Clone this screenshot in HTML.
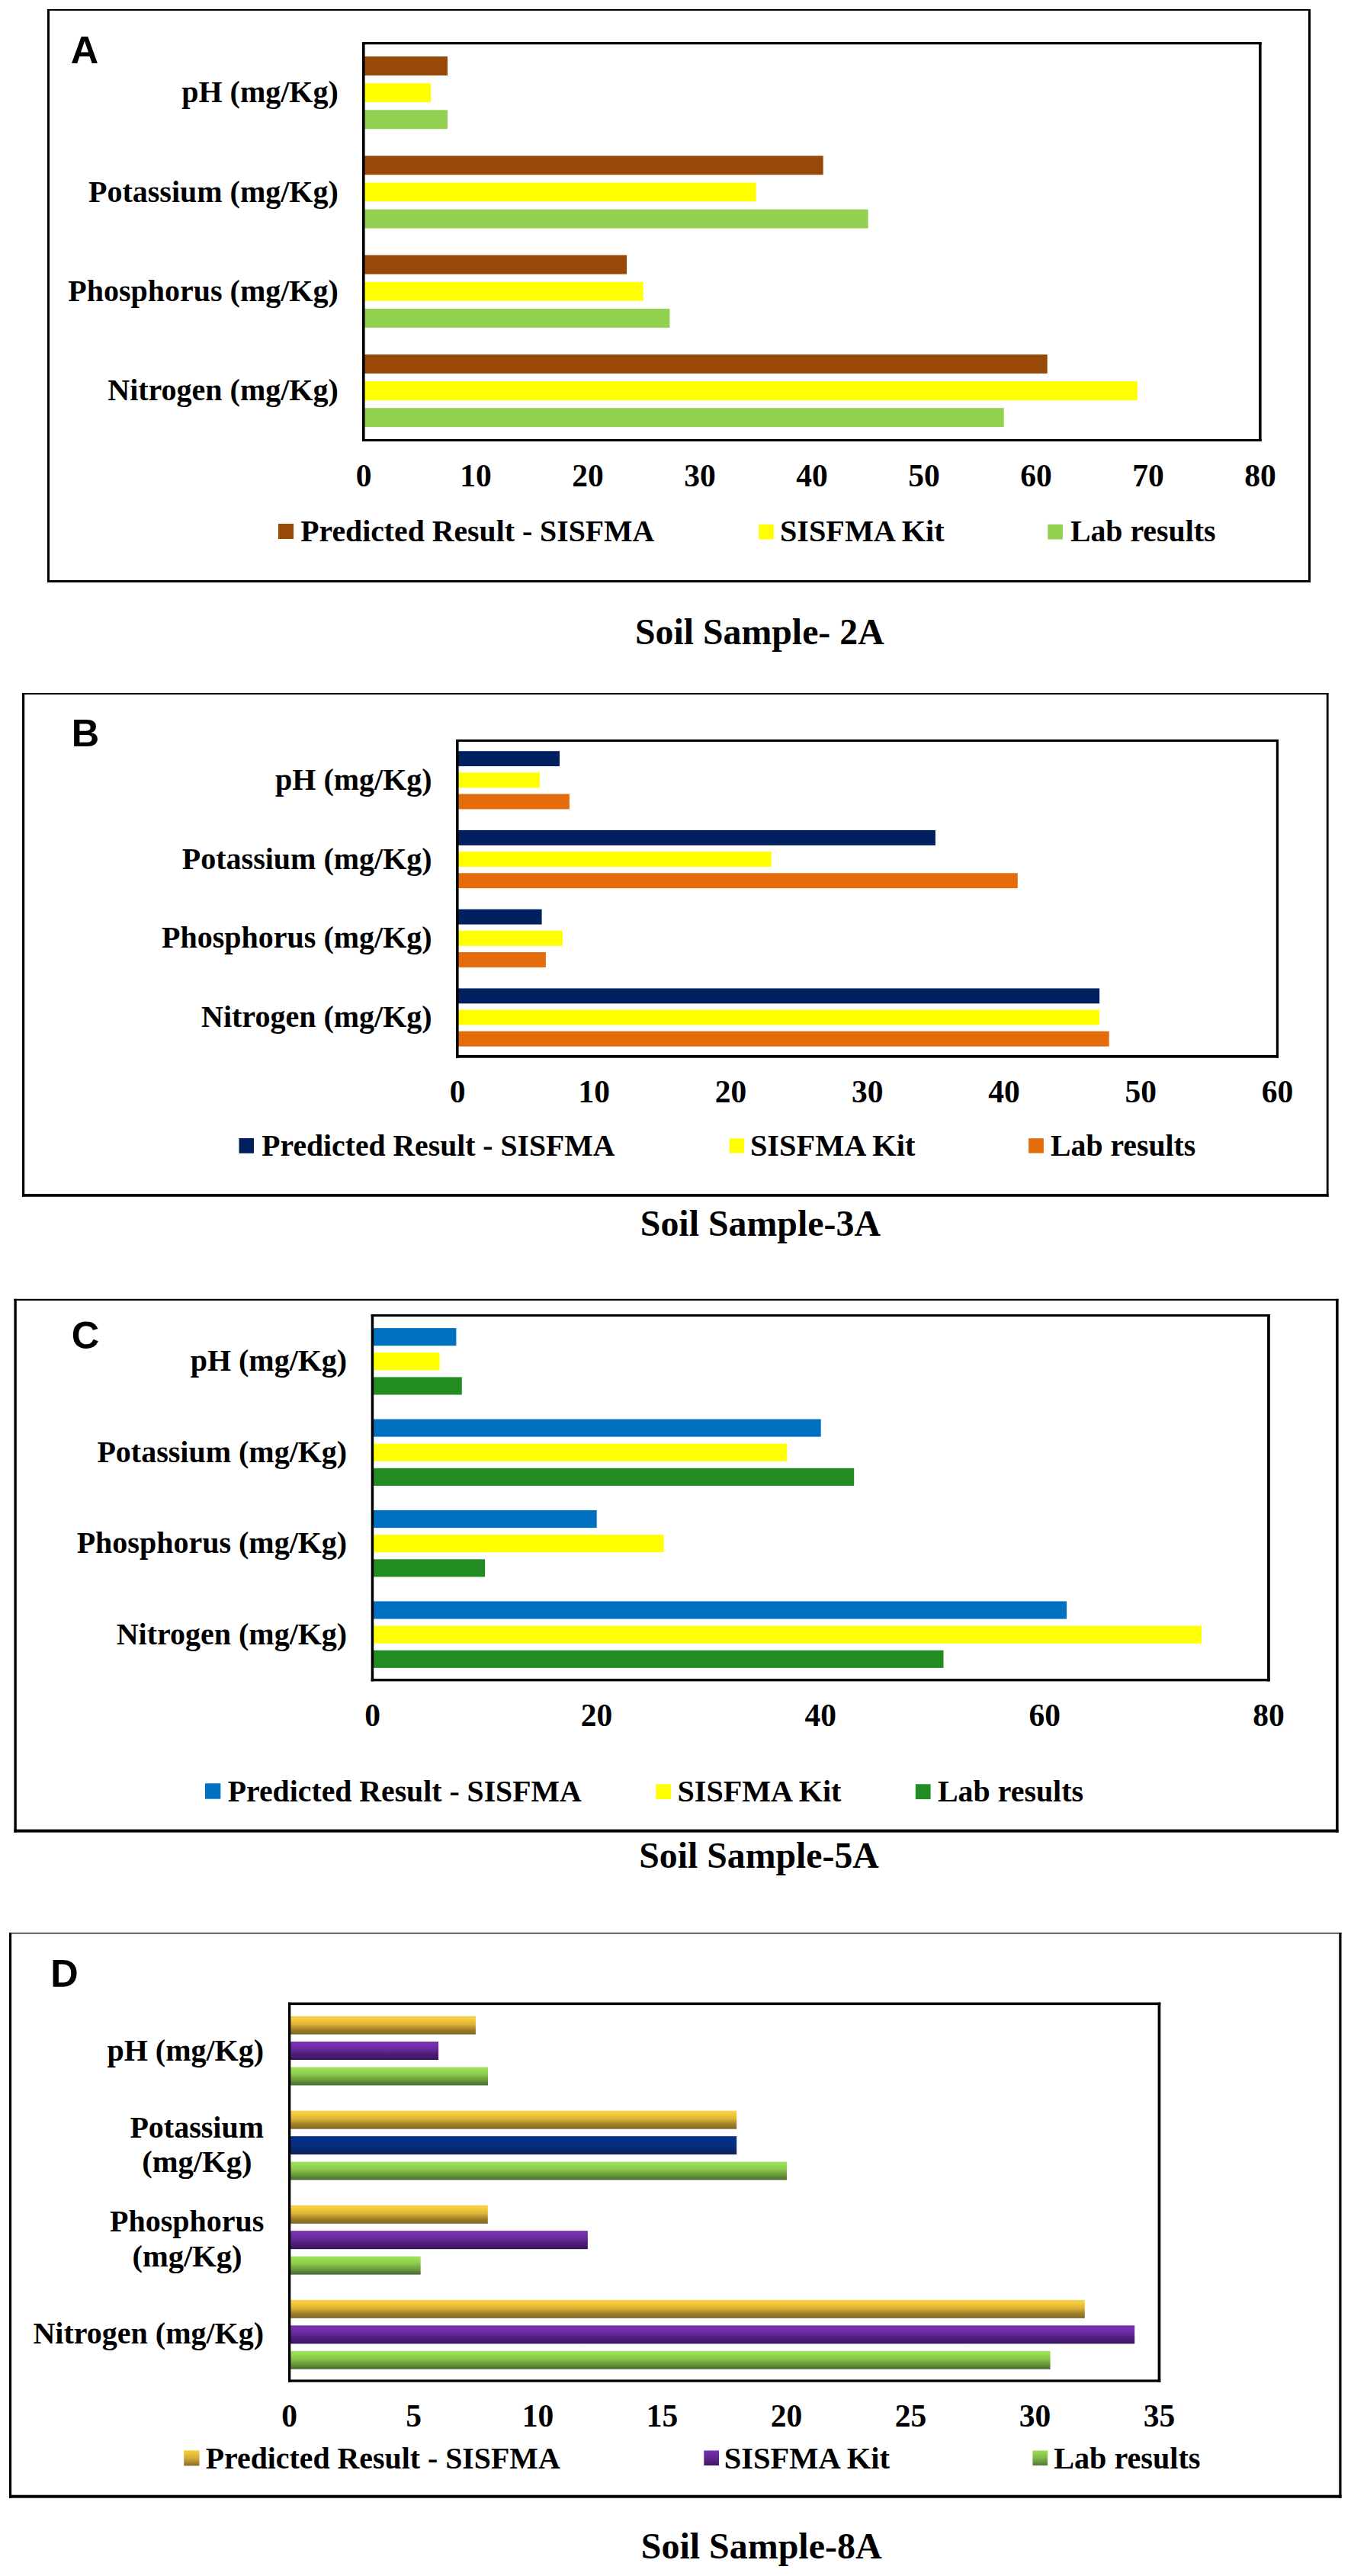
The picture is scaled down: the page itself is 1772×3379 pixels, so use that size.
<!DOCTYPE html>
<html><head><meta charset="utf-8"><title>Soil Sample Charts</title>
<style>html,body{margin:0;padding:0;background:#fff;} svg{display:block;}</style></head>
<body>
<svg width="1772" height="3379" viewBox="0 0 1772 3379">
<defs>
<linearGradient id="gGold" x1="0" y1="0" x2="0" y2="1">
<stop offset="0" stop-color="#f1cd52"/><stop offset="0.12" stop-color="#f9d03b"/><stop offset="0.45" stop-color="#ddb236"/><stop offset="0.75" stop-color="#9e7f27"/><stop offset="0.92" stop-color="#8a6f25"/><stop offset="1" stop-color="#76602e"/></linearGradient>
<linearGradient id="gPurp" x1="0" y1="0" x2="0" y2="1">
<stop offset="0" stop-color="#6f2aa0"/><stop offset="0.1" stop-color="#7b31b3"/><stop offset="0.4" stop-color="#6c299f"/><stop offset="0.7" stop-color="#4d1d76"/><stop offset="0.9" stop-color="#44186a"/><stop offset="1" stop-color="#2d1050"/></linearGradient>
<linearGradient id="gGreen" x1="0" y1="0" x2="0" y2="1">
<stop offset="0" stop-color="#a6d970"/><stop offset="0.12" stop-color="#9ae151"/><stop offset="0.4" stop-color="#8cc94f"/><stop offset="0.7" stop-color="#6a9d3a"/><stop offset="0.9" stop-color="#557a35"/><stop offset="1" stop-color="#4b6a32"/></linearGradient>
<linearGradient id="gNavy" x1="0" y1="0" x2="0" y2="1">
<stop offset="0" stop-color="#06308a"/><stop offset="0.3" stop-color="#042f88"/><stop offset="0.7" stop-color="#0b2a70"/><stop offset="1" stop-color="#0e2158"/></linearGradient>
<linearGradient id="gGoldS" x1="0" y1="0" x2="0" y2="1"><stop offset="0" stop-color="#f9d03b"/><stop offset="0.5" stop-color="#d6ac36"/><stop offset="1" stop-color="#86692a"/></linearGradient>
<linearGradient id="gPurpS" x1="0" y1="0" x2="0" y2="1"><stop offset="0" stop-color="#7b31b3"/><stop offset="0.5" stop-color="#62258f"/><stop offset="1" stop-color="#3c1662"/></linearGradient>
<linearGradient id="gGreenS" x1="0" y1="0" x2="0" y2="1"><stop offset="0" stop-color="#9ae151"/><stop offset="0.5" stop-color="#80b848"/><stop offset="1" stop-color="#52773a"/></linearGradient>
</defs>
<rect x="0" y="0" width="1772" height="3379" fill="#fff"/>
<rect x="62.00" y="12.00" width="1657.00" height="2.00" fill="#000"/>
<rect x="62.00" y="761.00" width="1657.00" height="3.00" fill="#000"/>
<rect x="62.00" y="12.00" width="3.00" height="752.00" fill="#000"/>
<rect x="1716.00" y="12.00" width="3.00" height="752.00" fill="#000"/>
<text x="92.64" y="82.90" font-size="50.5" text-anchor="start" font-family='"Liberation Sans", Arial, sans-serif' font-weight="bold">A</text>
<rect x="477.00" y="74.10" width="110.00" height="24.90" fill="#984807"/>
<rect x="477.00" y="109.20" width="88.10" height="24.90" fill="#FFFF00"/>
<rect x="477.00" y="144.30" width="110.00" height="24.90" fill="#92D050"/>
<rect x="477.00" y="204.40" width="602.70" height="24.90" fill="#984807"/>
<rect x="477.00" y="239.50" width="514.60" height="24.90" fill="#FFFF00"/>
<rect x="477.00" y="274.60" width="661.60" height="24.90" fill="#92D050"/>
<rect x="477.00" y="334.70" width="345.10" height="24.90" fill="#984807"/>
<rect x="477.00" y="369.80" width="366.60" height="24.90" fill="#FFFF00"/>
<rect x="477.00" y="404.90" width="401.40" height="24.90" fill="#92D050"/>
<rect x="477.00" y="465.00" width="896.70" height="24.90" fill="#984807"/>
<rect x="477.00" y="500.10" width="1014.80" height="24.90" fill="#FFFF00"/>
<rect x="477.00" y="535.20" width="839.70" height="24.90" fill="#92D050"/>
<rect x="475.00" y="55.00" width="1179.60" height="3.30" fill="#000"/>
<rect x="475.00" y="576.00" width="1179.60" height="3.00" fill="#000"/>
<rect x="475.00" y="55.00" width="3.60" height="524.00" fill="#000"/>
<rect x="1651.10" y="55.00" width="3.50" height="524.00" fill="#000"/>
<text x="477.00" y="637.60" font-size="41.5" text-anchor="middle" font-family='"Liberation Serif", "Times New Roman", serif' font-weight="bold">0</text>
<text x="624.00" y="637.60" font-size="41.5" text-anchor="middle" font-family='"Liberation Serif", "Times New Roman", serif' font-weight="bold">10</text>
<text x="771.00" y="637.60" font-size="41.5" text-anchor="middle" font-family='"Liberation Serif", "Times New Roman", serif' font-weight="bold">20</text>
<text x="918.00" y="637.60" font-size="41.5" text-anchor="middle" font-family='"Liberation Serif", "Times New Roman", serif' font-weight="bold">30</text>
<text x="1065.00" y="637.60" font-size="41.5" text-anchor="middle" font-family='"Liberation Serif", "Times New Roman", serif' font-weight="bold">40</text>
<text x="1212.00" y="637.60" font-size="41.5" text-anchor="middle" font-family='"Liberation Serif", "Times New Roman", serif' font-weight="bold">50</text>
<text x="1359.00" y="637.60" font-size="41.5" text-anchor="middle" font-family='"Liberation Serif", "Times New Roman", serif' font-weight="bold">60</text>
<text x="1506.00" y="637.60" font-size="41.5" text-anchor="middle" font-family='"Liberation Serif", "Times New Roman", serif' font-weight="bold">70</text>
<text x="1653.00" y="637.60" font-size="41.5" text-anchor="middle" font-family='"Liberation Serif", "Times New Roman", serif' font-weight="bold">80</text>
<text x="443.80" y="134.10" font-size="40" text-anchor="end" font-family='"Liberation Serif", "Times New Roman", serif' font-weight="bold">pH (mg/Kg)</text>
<text x="443.80" y="264.65" font-size="40" text-anchor="end" font-family='"Liberation Serif", "Times New Roman", serif' font-weight="bold">Potassium (mg/Kg)</text>
<text x="443.80" y="394.90" font-size="40" text-anchor="end" font-family='"Liberation Serif", "Times New Roman", serif' font-weight="bold">Phosphorus (mg/Kg)</text>
<text x="443.80" y="525.30" font-size="40" text-anchor="end" font-family='"Liberation Serif", "Times New Roman", serif' font-weight="bold">Nitrogen (mg/Kg)</text>
<rect x="365.00" y="687.00" width="20.00" height="20.00" fill="#984807"/>
<text x="394.20" y="709.70" font-size="39.76" text-anchor="start" font-family='"Liberation Serif", "Times New Roman", serif' font-weight="bold">Predicted Result - SISFMA</text>
<rect x="995.20" y="687.80" width="19.70" height="19.70" fill="#FFFF00"/>
<text x="1022.90" y="709.70" font-size="40.24" text-anchor="start" font-family='"Liberation Serif", "Times New Roman", serif' font-weight="bold">SISFMA Kit</text>
<rect x="1374.30" y="687.80" width="19.60" height="19.70" fill="#92D050"/>
<text x="1403.90" y="709.70" font-size="39.81" text-anchor="start" font-family='"Liberation Serif", "Times New Roman", serif' font-weight="bold">Lab results</text>
<text x="996.30" y="845.00" font-size="47.82" text-anchor="middle" font-family='"Liberation Serif", "Times New Roman", serif' font-weight="bold">Soil Sample- 2A</text>
<rect x="29.00" y="909.00" width="1713.60" height="2.00" fill="#000"/>
<rect x="29.00" y="1566.10" width="1713.60" height="3.70" fill="#000"/>
<rect x="29.00" y="909.00" width="3.20" height="660.80" fill="#000"/>
<rect x="1739.80" y="909.00" width="2.80" height="660.80" fill="#000"/>
<text x="93.69" y="978.70" font-size="50.5" text-anchor="start" font-family='"Liberation Sans", Arial, sans-serif' font-weight="bold">B</text>
<rect x="600.00" y="985.20" width="134.00" height="19.90" fill="#002060"/>
<rect x="600.00" y="1013.35" width="107.90" height="19.90" fill="#FFFF00"/>
<rect x="600.00" y="1041.50" width="146.90" height="19.90" fill="#E46C0A"/>
<rect x="600.00" y="1088.95" width="626.90" height="19.90" fill="#002060"/>
<rect x="600.00" y="1117.10" width="411.70" height="19.90" fill="#FFFF00"/>
<rect x="600.00" y="1145.25" width="734.80" height="19.90" fill="#E46C0A"/>
<rect x="600.00" y="1192.70" width="110.60" height="19.90" fill="#002060"/>
<rect x="600.00" y="1220.85" width="137.90" height="19.90" fill="#FFFF00"/>
<rect x="600.00" y="1249.00" width="115.90" height="19.90" fill="#E46C0A"/>
<rect x="600.00" y="1296.45" width="842.10" height="19.90" fill="#002060"/>
<rect x="600.00" y="1324.60" width="842.10" height="19.90" fill="#FFFF00"/>
<rect x="600.00" y="1352.75" width="854.70" height="19.90" fill="#E46C0A"/>
<rect x="598.00" y="970.00" width="1079.00" height="3.00" fill="#000"/>
<rect x="598.00" y="1383.90" width="1079.00" height="3.80" fill="#000"/>
<rect x="598.00" y="970.00" width="3.60" height="417.70" fill="#000"/>
<rect x="1673.80" y="970.00" width="3.20" height="417.70" fill="#000"/>
<text x="600.00" y="1446.20" font-size="41.5" text-anchor="middle" font-family='"Liberation Serif", "Times New Roman", serif' font-weight="bold">0</text>
<text x="779.25" y="1446.20" font-size="41.5" text-anchor="middle" font-family='"Liberation Serif", "Times New Roman", serif' font-weight="bold">10</text>
<text x="958.50" y="1446.20" font-size="41.5" text-anchor="middle" font-family='"Liberation Serif", "Times New Roman", serif' font-weight="bold">20</text>
<text x="1137.75" y="1446.20" font-size="41.5" text-anchor="middle" font-family='"Liberation Serif", "Times New Roman", serif' font-weight="bold">30</text>
<text x="1317.00" y="1446.20" font-size="41.5" text-anchor="middle" font-family='"Liberation Serif", "Times New Roman", serif' font-weight="bold">40</text>
<text x="1496.25" y="1446.20" font-size="41.5" text-anchor="middle" font-family='"Liberation Serif", "Times New Roman", serif' font-weight="bold">50</text>
<text x="1675.50" y="1446.20" font-size="41.5" text-anchor="middle" font-family='"Liberation Serif", "Times New Roman", serif' font-weight="bold">60</text>
<text x="566.60" y="1035.90" font-size="40" text-anchor="end" font-family='"Liberation Serif", "Times New Roman", serif' font-weight="bold">pH (mg/Kg)</text>
<text x="566.60" y="1139.60" font-size="40" text-anchor="end" font-family='"Liberation Serif", "Times New Roman", serif' font-weight="bold">Potassium (mg/Kg)</text>
<text x="566.60" y="1243.20" font-size="40" text-anchor="end" font-family='"Liberation Serif", "Times New Roman", serif' font-weight="bold">Phosphorus (mg/Kg)</text>
<text x="566.60" y="1346.70" font-size="40" text-anchor="end" font-family='"Liberation Serif", "Times New Roman", serif' font-weight="bold">Nitrogen (mg/Kg)</text>
<rect x="313.50" y="1493.00" width="19.50" height="19.80" fill="#002060"/>
<text x="343.30" y="1516.40" font-size="39.66" text-anchor="start" font-family='"Liberation Serif", "Times New Roman", serif' font-weight="bold">Predicted Result - SISFMA</text>
<rect x="956.80" y="1493.20" width="19.30" height="19.40" fill="#FFFF00"/>
<text x="983.90" y="1516.40" font-size="40.4" text-anchor="start" font-family='"Liberation Serif", "Times New Roman", serif' font-weight="bold">SISFMA Kit</text>
<rect x="1349.10" y="1493.20" width="19.80" height="19.40" fill="#E46C0A"/>
<text x="1378.10" y="1516.40" font-size="39.71" text-anchor="start" font-family='"Liberation Serif", "Times New Roman", serif' font-weight="bold">Lab results</text>
<text x="997.40" y="1620.80" font-size="47.88" text-anchor="middle" font-family='"Liberation Serif", "Times New Roman", serif' font-weight="bold">Soil Sample-3A</text>
<rect x="18.40" y="1703.80" width="1737.20" height="2.20" fill="#000"/>
<rect x="18.40" y="2399.60" width="1737.20" height="4.00" fill="#000"/>
<rect x="18.40" y="1703.80" width="3.40" height="699.80" fill="#000"/>
<rect x="1752.10" y="1703.80" width="3.50" height="699.80" fill="#000"/>
<text x="93.68" y="1769.29" font-size="50.5" text-anchor="start" font-family='"Liberation Sans", Arial, sans-serif' font-weight="bold">C</text>
<rect x="488.50" y="1742.10" width="109.90" height="23.10" fill="#0070C0"/>
<rect x="488.50" y="1774.25" width="88.10" height="23.10" fill="#FFFF00"/>
<rect x="488.50" y="1806.40" width="117.30" height="23.10" fill="#228B22"/>
<rect x="488.50" y="1861.55" width="588.20" height="23.10" fill="#0070C0"/>
<rect x="488.50" y="1893.70" width="543.80" height="23.10" fill="#FFFF00"/>
<rect x="488.50" y="1925.85" width="631.70" height="23.10" fill="#228B22"/>
<rect x="488.50" y="1981.00" width="294.20" height="23.10" fill="#0070C0"/>
<rect x="488.50" y="2013.15" width="382.10" height="23.10" fill="#FFFF00"/>
<rect x="488.50" y="2045.30" width="147.60" height="23.10" fill="#228B22"/>
<rect x="488.50" y="2100.45" width="910.60" height="23.10" fill="#0070C0"/>
<rect x="488.50" y="2132.60" width="1087.40" height="23.10" fill="#FFFF00"/>
<rect x="488.50" y="2164.75" width="749.00" height="23.10" fill="#228B22"/>
<rect x="486.70" y="1724.00" width="1179.10" height="3.00" fill="#000"/>
<rect x="486.70" y="2202.00" width="1179.10" height="3.40" fill="#000"/>
<rect x="486.70" y="1724.00" width="3.50" height="481.40" fill="#000"/>
<rect x="1662.10" y="1724.00" width="3.70" height="481.40" fill="#000"/>
<text x="488.50" y="2263.60" font-size="41.5" text-anchor="middle" font-family='"Liberation Serif", "Times New Roman", serif' font-weight="bold">0</text>
<text x="782.40" y="2263.60" font-size="41.5" text-anchor="middle" font-family='"Liberation Serif", "Times New Roman", serif' font-weight="bold">20</text>
<text x="1076.30" y="2263.60" font-size="41.5" text-anchor="middle" font-family='"Liberation Serif", "Times New Roman", serif' font-weight="bold">40</text>
<text x="1370.20" y="2263.60" font-size="41.5" text-anchor="middle" font-family='"Liberation Serif", "Times New Roman", serif' font-weight="bold">60</text>
<text x="1664.10" y="2263.60" font-size="41.5" text-anchor="middle" font-family='"Liberation Serif", "Times New Roman", serif' font-weight="bold">80</text>
<text x="455.20" y="1798.00" font-size="40" text-anchor="end" font-family='"Liberation Serif", "Times New Roman", serif' font-weight="bold">pH (mg/Kg)</text>
<text x="455.20" y="1917.50" font-size="40" text-anchor="end" font-family='"Liberation Serif", "Times New Roman", serif' font-weight="bold">Potassium (mg/Kg)</text>
<text x="455.20" y="2037.10" font-size="40" text-anchor="end" font-family='"Liberation Serif", "Times New Roman", serif' font-weight="bold">Phosphorus (mg/Kg)</text>
<text x="455.20" y="2156.60" font-size="40" text-anchor="end" font-family='"Liberation Serif", "Times New Roman", serif' font-weight="bold">Nitrogen (mg/Kg)</text>
<rect x="269.00" y="2339.30" width="20.30" height="20.40" fill="#0070C0"/>
<text x="298.80" y="2362.80" font-size="39.74" text-anchor="start" font-family='"Liberation Serif", "Times New Roman", serif' font-weight="bold">Predicted Result - SISFMA</text>
<rect x="860.30" y="2340.30" width="19.90" height="19.80" fill="#FFFF00"/>
<text x="888.50" y="2362.80" font-size="40.08" text-anchor="start" font-family='"Liberation Serif", "Times New Roman", serif' font-weight="bold">SISFMA Kit</text>
<rect x="1200.80" y="2340.30" width="19.80" height="19.80" fill="#228B22"/>
<text x="1229.90" y="2362.80" font-size="39.94" text-anchor="start" font-family='"Liberation Serif", "Times New Roman", serif' font-weight="bold">Lab results</text>
<text x="995.50" y="2449.90" font-size="47.79" text-anchor="middle" font-family='"Liberation Serif", "Times New Roman", serif' font-weight="bold">Soil Sample-5A</text>
<rect x="12.00" y="2535.10" width="1747.50" height="1.60" fill="#3c3c3c"/>
<rect x="12.00" y="3272.70" width="1747.50" height="4.00" fill="#000"/>
<rect x="12.00" y="2535.10" width="3.10" height="741.60" fill="#000"/>
<rect x="1756.30" y="2535.10" width="3.20" height="741.60" fill="#000"/>
<text x="66.29" y="2605.70" font-size="50.5" text-anchor="start" font-family='"Liberation Sans", Arial, sans-serif' font-weight="bold">D</text>
<rect x="379.70" y="2644.60" width="244.20" height="23.95" fill="url(#gGold)"/>
<rect x="379.70" y="2678.05" width="195.40" height="23.95" fill="url(#gPurp)"/>
<rect x="379.70" y="2711.50" width="260.30" height="23.95" fill="url(#gGreen)"/>
<rect x="379.70" y="2768.70" width="586.50" height="23.95" fill="url(#gGold)"/>
<rect x="379.70" y="2802.15" width="586.50" height="23.95" fill="url(#gNavy)"/>
<rect x="379.70" y="2835.60" width="652.30" height="23.95" fill="url(#gGreen)"/>
<rect x="379.70" y="2892.80" width="260.10" height="23.95" fill="url(#gGold)"/>
<rect x="379.70" y="2926.25" width="391.20" height="23.95" fill="url(#gPurp)"/>
<rect x="379.70" y="2959.70" width="172.00" height="23.95" fill="url(#gGreen)"/>
<rect x="379.70" y="3016.90" width="1043.10" height="23.95" fill="url(#gGold)"/>
<rect x="379.70" y="3050.35" width="1108.50" height="23.95" fill="url(#gPurp)"/>
<rect x="379.70" y="3083.80" width="997.90" height="23.95" fill="url(#gGreen)"/>
<rect x="378.00" y="2626.60" width="1144.30" height="3.50" fill="#000"/>
<rect x="378.00" y="3121.40" width="1144.30" height="3.30" fill="#000"/>
<rect x="378.00" y="2626.60" width="3.30" height="498.10" fill="#000"/>
<rect x="1518.60" y="2626.60" width="3.70" height="498.10" fill="#000"/>
<text x="379.70" y="3183.00" font-size="41.5" text-anchor="middle" font-family='"Liberation Serif", "Times New Roman", serif' font-weight="bold">0</text>
<text x="542.66" y="3183.00" font-size="41.5" text-anchor="middle" font-family='"Liberation Serif", "Times New Roman", serif' font-weight="bold">5</text>
<text x="705.62" y="3183.00" font-size="41.5" text-anchor="middle" font-family='"Liberation Serif", "Times New Roman", serif' font-weight="bold">10</text>
<text x="868.58" y="3183.00" font-size="41.5" text-anchor="middle" font-family='"Liberation Serif", "Times New Roman", serif' font-weight="bold">15</text>
<text x="1031.54" y="3183.00" font-size="41.5" text-anchor="middle" font-family='"Liberation Serif", "Times New Roman", serif' font-weight="bold">20</text>
<text x="1194.50" y="3183.00" font-size="41.5" text-anchor="middle" font-family='"Liberation Serif", "Times New Roman", serif' font-weight="bold">25</text>
<text x="1357.46" y="3183.00" font-size="41.5" text-anchor="middle" font-family='"Liberation Serif", "Times New Roman", serif' font-weight="bold">30</text>
<text x="1520.42" y="3183.00" font-size="41.5" text-anchor="middle" font-family='"Liberation Serif", "Times New Roman", serif' font-weight="bold">35</text>
<text x="346.00" y="2702.50" font-size="40" text-anchor="end" font-family='"Liberation Serif", "Times New Roman", serif' font-weight="bold">pH (mg/Kg)</text>
<text x="258.20" y="2803.90" font-size="40" text-anchor="middle" font-family='"Liberation Serif", "Times New Roman", serif' font-weight="bold">Potassium</text>
<text x="258.40" y="2849.20" font-size="40.6" text-anchor="middle" font-family='"Liberation Serif", "Times New Roman", serif' font-weight="bold">(mg/Kg)</text>
<text x="245.20" y="2927.20" font-size="40" text-anchor="middle" font-family='"Liberation Serif", "Times New Roman", serif' font-weight="bold">Phosphorus</text>
<text x="245.50" y="2973.30" font-size="40.6" text-anchor="middle" font-family='"Liberation Serif", "Times New Roman", serif' font-weight="bold">(mg/Kg)</text>
<text x="346.00" y="3073.90" font-size="40" text-anchor="end" font-family='"Liberation Serif", "Times New Roman", serif' font-weight="bold">Nitrogen (mg/Kg)</text>
<rect x="241.20" y="3214.20" width="20.30" height="20.20" fill="url(#gGoldS)"/>
<text x="269.70" y="3237.80" font-size="39.85" text-anchor="start" font-family='"Liberation Serif", "Times New Roman", serif' font-weight="bold">Predicted Result - SISFMA</text>
<rect x="923.30" y="3214.40" width="19.70" height="19.60" fill="url(#gPurpS)"/>
<text x="949.70" y="3237.80" font-size="40.53" text-anchor="start" font-family='"Liberation Serif", "Times New Roman", serif' font-weight="bold">SISFMA Kit</text>
<rect x="1354.40" y="3214.40" width="19.70" height="19.60" fill="url(#gGreenS)"/>
<text x="1382.20" y="3237.80" font-size="40.17" text-anchor="start" font-family='"Liberation Serif", "Times New Roman", serif' font-weight="bold">Lab results</text>
<text x="998.65" y="3356.30" font-size="47.98" text-anchor="middle" font-family='"Liberation Serif", "Times New Roman", serif' font-weight="bold">Soil Sample-8A</text>
</svg>
</body></html>
